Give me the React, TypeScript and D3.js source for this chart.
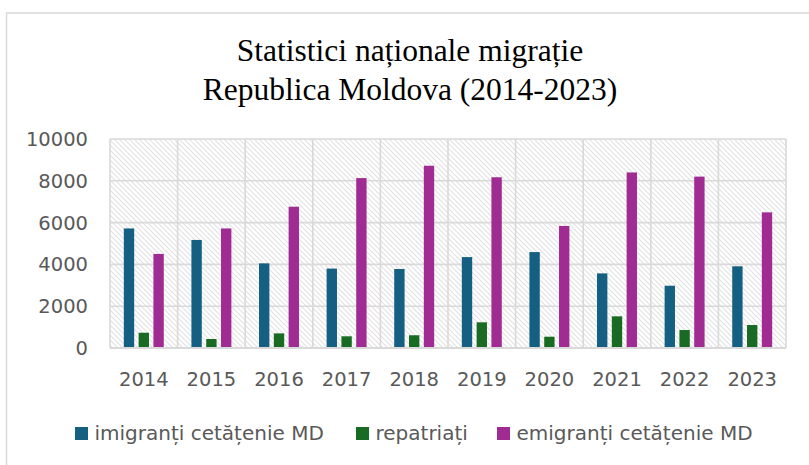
import React from "react";
import * as d3 from "d3";

const years = ["2014", "2015", "2016", "2017", "2018", "2019", "2020", "2021", "2022", "2023"];
const seriesNames = ["imigranți cetățenie MD", "repatriați", "emigranți cetățenie MD"];
const imigranti = [5720, 5170, 4050, 3800, 3780, 4350, 4590, 3570, 2980, 3910];
const repatriati = [730, 430, 700, 560, 610, 1230, 540, 1515, 860, 1100];
const emigranti = [4500, 5720, 6760, 8130, 8720, 8170, 5840, 8400, 8200, 6490];
const seriesColors = ["#156082", "#196B24", "#A02B93"];
const yTicks = [0, 2000, 4000, 6000, 8000, 10000];
const titleLines = ["Statistici naționale migrație", "Republica Moldova (2014-2023)"];

const W = 809;
const H = 465;
const plot = { left: 110, right: 786, top: 139, bottom: 348 };
const FONT = "'DejaVu Sans', sans-serif";
const TXT = "#595959";
const GRID = "#d9d9d9";

export default function App() {
  const allSeries = [imigranti, repatriati, emigranti];
  const x = d3.scaleBand<string>().domain(years).range([plot.left, plot.right]).padding(0);
  const y = d3.scaleLinear().domain([0, 10000]).range([plot.bottom, plot.top]);
  const step = 14.8;
  const pIn = 0.3;
  const innerL = step * (seriesNames.length - pIn);
  const x1 = d3
    .scaleBand<string>()
    .domain(seriesNames)
    .range([-innerL / 2, innerL / 2])
    .paddingInner(pIn)
    .paddingOuter(0);
  const bw = x1.bandwidth();

  const legendX = [75, 356, 497];

  return (
    <svg
      width={W}
      height={H}
      style={{ position: "absolute", left: 0, top: 0, background: "#fff" }}
    >
      <defs>
        <pattern id="hatch" patternUnits="userSpaceOnUse" width={5} height={5}>
          <rect width={5} height={5} fill="#ffffff" />
          <path d="M-1,-1 L6,6 M-1,4 L1,6 M4,-1 L6,1" stroke="#e2e2e2" strokeWidth={1.1} />
        </pattern>
      </defs>
      <rect x={6.5} y={13} width={900} height={600} fill="#fff" stroke={GRID} strokeWidth={1.5} />

      {titleLines.map((t, i) => (
        <text
          key={i}
          x={410}
          y={61 + i * 38.5}
          textAnchor="middle"
          fontFamily="'Liberation Serif', 'Times New Roman', serif"
          fontSize={31.5}
          fill="#000"
        >
          {t}
        </text>
      ))}

      <rect
        x={plot.left}
        y={plot.top}
        width={plot.right - plot.left}
        height={plot.bottom - plot.top}
        fill="url(#hatch)"
      />

      {yTicks.map((t) => (
        <line
          key={"h" + t}
          x1={plot.left}
          x2={plot.right}
          y1={y(t)}
          y2={y(t)}
          stroke={GRID}
          strokeWidth={1.6}
        />
      ))}
      {years.concat(["end"]).map((yr, i) => {
        const xx = i < years.length ? (x(yr) as number) : plot.right;
        return (
          <line
            key={"v" + i}
            x1={xx}
            x2={xx}
            y1={plot.top}
            y2={plot.bottom}
            stroke={GRID}
            strokeWidth={1.6}
          />
        );
      })}

      {years.map((yr, i) => (
        <g key={yr}>
          {allSeries.map((s, k) => {
            const cx = (x(yr) as number) + x.bandwidth() / 2 + (x1(seriesNames[k]) as number);
            return (
              <rect
                key={k}
                x={cx}
                y={y(s[i])}
                width={bw}
                height={plot.bottom - y(s[i])}
                fill={seriesColors[k]}
              />
            );
          })}
        </g>
      ))}

      <line
        x1={plot.left}
        x2={plot.right}
        y1={plot.bottom}
        y2={plot.bottom}
        stroke={GRID}
        strokeWidth={2}
      />

      {yTicks.map((t) => (
        <text
          key={"yl" + t}
          x={88}
          y={y(t)}
          dy="0.36em"
          textAnchor="end"
          fontFamily={FONT}
          fontSize={19.5}
          fill={TXT}
        >
          {t}
        </text>
      ))}

      {years.map((yr) => (
        <text
          key={"xl" + yr}
          x={(x(yr) as number) + x.bandwidth() / 2}
          y={386}
          textAnchor="middle"
          fontFamily={FONT}
          fontSize={19.5}
          fill={TXT}
        >
          {yr}
        </text>
      ))}

      {seriesNames.map((n, k) => (
        <g key={"lg" + k}>
          <rect x={legendX[k]} y={427} width={13} height={13} fill={seriesColors[k]} />
          <text
            x={legendX[k] + 19.5}
            y={439.5}
            fontFamily={FONT}
            fontSize={20}
            fill={TXT}
          >
            {n}
          </text>
        </g>
      ))}
    </svg>
  );
}
